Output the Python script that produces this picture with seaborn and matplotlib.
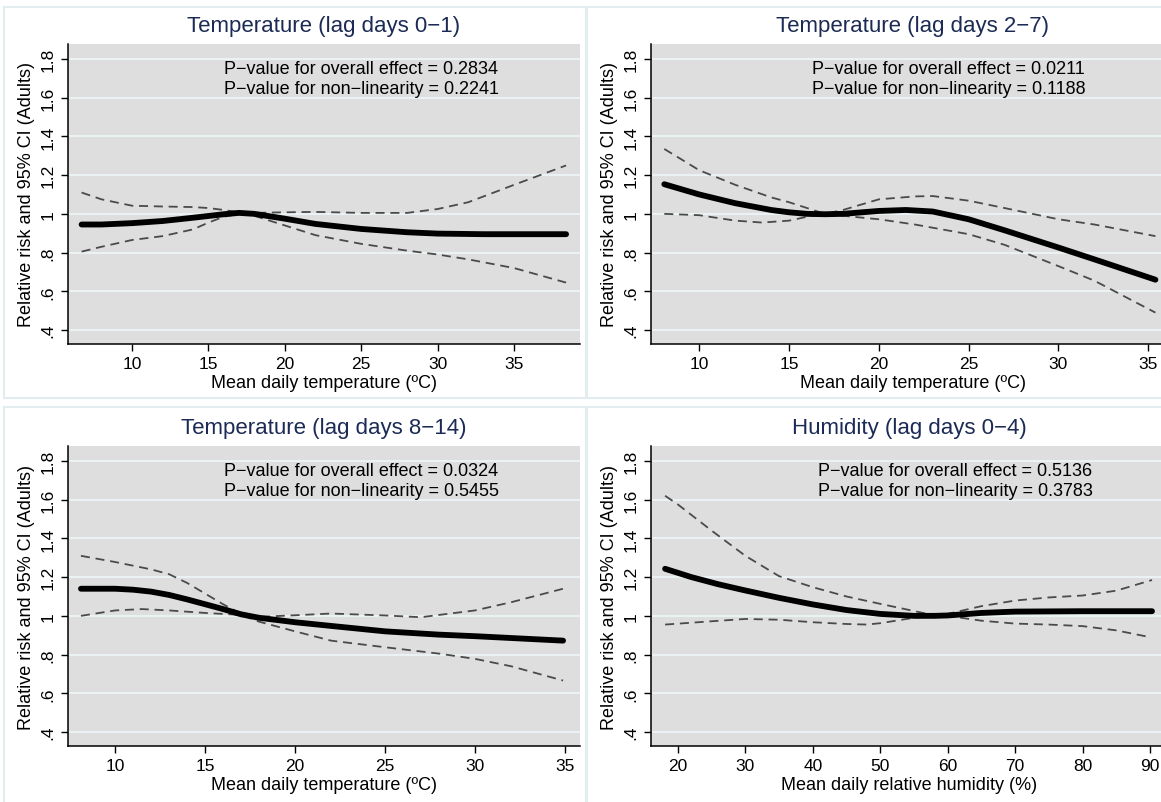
import numpy as np
import pandas as pd
import matplotlib
matplotlib.use("Agg")
import matplotlib.pyplot as plt
import matplotlib.patches as mpatches
import seaborn as sns

# Panel 1: temperature, lag days 0-1
t01_x = [6.7, 8, 10, 12, 14, 16, 17, 18, 20, 22, 25, 28, 30, 33, 36, 38.4]
t01_rr = [0.945, 0.945, 0.952, 0.963, 0.98, 0.998, 1.005, 1.0, 0.975, 0.948, 0.922, 0.905, 0.898, 0.895, 0.895, 0.895]
t01_ci_x = [6.7, 8, 10, 12, 14, 15, 16, 17, 18, 20, 22, 25, 28, 30, 32, 35, 38.4]
t01_hi = [1.11, 1.075, 1.042, 1.038, 1.035, 1.03, 1.02, 1.008, 1.005, 1.008, 1.01, 1.005, 1.005, 1.025, 1.06, 1.15, 1.25]
t01_lo = [0.805, 0.83, 0.865, 0.885, 0.92, 0.955, 0.985, 1.0, 0.99, 0.94, 0.89, 0.845, 0.81, 0.79, 0.765, 0.72, 0.645]

# Panel 2: temperature, lag days 2-7
t27_x = [8.05, 10, 12, 14, 15, 16, 17, 18, 20, 21.5, 23, 25, 27, 30, 32, 35.4]
t27_rr = [1.153, 1.10, 1.055, 1.02, 1.008, 1.0, 0.998, 1.0, 1.015, 1.02, 1.012, 0.972, 0.915, 0.826, 0.765, 0.66]
t27_hi_x = [8.05, 10, 12, 14, 15, 16, 17, 18, 20, 22, 23, 25, 27, 30, 32, 35.4]
t27_hi = [1.335, 1.225, 1.15, 1.085, 1.06, 1.03, 1.0, 1.02, 1.075, 1.09, 1.092, 1.068, 1.03, 0.972, 0.945, 0.885]
t27_lo_x = [8.05, 10, 12, 13.5, 15, 16, 17, 18, 20, 22, 25, 27, 30, 32, 35.4]
t27_lo = [1.0, 0.993, 0.965, 0.955, 0.965, 0.985, 1.0, 0.99, 0.972, 0.945, 0.895, 0.84, 0.73, 0.655, 0.49]

# Panel 3: temperature, lag days 8-14
t814_x = [8.1, 10, 11, 12, 13, 14, 15, 16, 17, 18, 20, 22, 25, 28, 30, 34.9]
t814_rr = [1.14, 1.14, 1.135, 1.125, 1.108, 1.085, 1.06, 1.035, 1.008, 0.99, 0.967, 0.948, 0.92, 0.903, 0.895, 0.872]
t814_hi_x = [8.1, 10, 12, 13, 14, 15, 16, 17, 18, 20, 22, 25, 27, 30, 32, 34.9]
t814_hi = [1.31, 1.278, 1.24, 1.215, 1.17, 1.115, 1.06, 1.01, 0.995, 1.003, 1.012, 1.002, 0.993, 1.028, 1.07, 1.14]
t814_lo_x = [8.1, 10, 11.5, 13, 15, 16, 17, 18, 20, 22, 25, 28, 30, 32, 34.9]
t814_lo = [1.0, 1.028, 1.035, 1.028, 1.015, 1.01, 1.005, 0.97, 0.92, 0.872, 0.838, 0.805, 0.778, 0.74, 0.666]

# Panel 4: humidity, lag days 0-4
h04_x = [18.1, 22, 26, 30, 35, 40, 45, 50, 55, 58, 60, 65, 70, 80, 90.3]
h04_rr = [1.243, 1.2, 1.163, 1.131, 1.093, 1.059, 1.03, 1.01, 1.0, 1.0, 1.002, 1.015, 1.022, 1.024, 1.024]
h04_hi_x = [18.1, 20, 25, 30, 35, 40, 45, 50, 55, 58, 60, 65, 70, 75, 80, 85, 90.3]
h04_hi = [1.62, 1.575, 1.44, 1.31, 1.205, 1.148, 1.1, 1.062, 1.025, 1.003, 1.01, 1.05, 1.079, 1.095, 1.105, 1.13, 1.185]
h04_lo_x = [18.1, 25, 30, 35, 40, 45, 48, 50, 55, 58, 60, 65, 70, 75, 80, 85, 90]
h04_lo = [0.955, 0.972, 0.984, 0.98, 0.967, 0.958, 0.955, 0.962, 0.99, 0.999, 1.0, 0.975, 0.96, 0.955, 0.947, 0.925, 0.89]

titles = ["Temperature (lag days 0\u22121)", "Temperature (lag days 2\u22127)",
          "Temperature (lag days 8\u221214)", "Humidity (lag days 0\u22124)"]
p_overall = ["0.2834", "0.0211", "0.0324", "0.5136"]
p_nonlin = ["0.2241", "0.1188", "0.5455", "0.3783"]
xlabels = ["Mean daily temperature (\u00baC)"] * 3 + ["Mean daily relative humidity (%)"]
yticks = [0.4, 0.6, 0.8, 1.0, 1.2, 1.4, 1.6, 1.8]
ytick_labels = [".4", ".6", ".8", "1", "1.2", "1.4", "1.6", "1.8"]
temp_ticks = [10, 15, 20, 25, 30, 35]
hum_ticks = [20, 30, 40, 50, 60, 70, 80, 90]

sns.set_theme(style="ticks")
plt.rcParams['font.family'] = ['Liberation Sans', 'DejaVu Sans']

W, H = 1161, 803
fig = plt.figure(figsize=(W / 100, H / 100), dpi=100)
fig.patch.set_facecolor("white")

# panel frames (pixels: x0, y0 from top, x1, y1)
frames = [(4, 8, 586, 399), (587, 8, 1175, 399), (4, 408, 586, 810), (587, 408, 1175, 810)]
for x0, y0, x1, y1 in frames:
    fig.patches.append(mpatches.Rectangle((x0 / W, 1 - y1 / H), (x1 - x0) / W, (y1 - y0) / H,
                                          transform=fig.transFigure, facecolor="none",
                                          edgecolor="#e3ecee", linewidth=1.5, zorder=-1))

# axes boxes in pixels (left, top, right, bottom)
boxes = [(68, 45, 580, 345), (651, 45, 1175, 345), (68, 447, 580, 747), (651, 447, 1168, 747)]
xlims = [(5.81, 39.31), (7.31, 36.49), (7.38, 35.84), (16.01, 92.67)]
xticks = [temp_ticks, temp_ticks, temp_ticks, hum_ticks]
ptext_x = [0.305, 0.308, 0.305, 0.323]

series = [
    (t01_x, t01_rr, t01_ci_x, t01_hi, t01_ci_x, t01_lo),
    (t27_x, t27_rr, t27_hi_x, t27_hi, t27_lo_x, t27_lo),
    (t814_x, t814_rr, t814_hi_x, t814_hi, t814_lo_x, t814_lo),
    (h04_x, h04_rr, h04_hi_x, h04_hi, h04_lo_x, h04_lo),
]

for i, (l, t, r, b) in enumerate(boxes):
    ax = fig.add_axes([l / W, 1 - b / H, (r - l) / W, (b - t) / H])
    ax.set_facecolor("#dedede")
    x, rr, hx, hi, lx, lo = series[i]

    # dashed 95% CI bounds
    sns.lineplot(x=hx, y=hi, ax=ax, color="#4a4a4a", linewidth=1.3, estimator=None, zorder=3)
    ax.lines[-1].set_dashes([5, 3.2])
    sns.lineplot(x=lx, y=lo, ax=ax, color="#4a4a4a", linewidth=1.3, estimator=None, zorder=3)
    ax.lines[-1].set_dashes([5, 3.2])
    # relative risk
    sns.lineplot(x=x, y=rr, ax=ax, color="black", linewidth=4.2, estimator=None, zorder=4)

    ax.set_xlim(*xlims[i])
    ax.set_ylim(0.328, 1.877)
    ax.set_yticks(yticks)
    ax.set_yticklabels(ytick_labels, rotation=90, va="center")
    ax.set_xticks(xticks[i])
    ax.grid(axis="y", color="#eaf2f3", linewidth=1.5)
    ax.grid(axis="x", visible=False)
    ax.set_axisbelow(True)
    for s in ["top", "right"]:
        ax.spines[s].set_visible(False)
    for s in ["left", "bottom"]:
        ax.spines[s].set_color("black")
        ax.spines[s].set_linewidth(1.1)
    ax.tick_params(axis="both", direction="out", length=5, width=1.0, color="black",
                   labelsize=12.5, labelcolor="black", pad=4)
    ax.set_xlabel(xlabels[i], fontsize=13, color="black", labelpad=2)
    ax.set_ylabel("Relative risk and 95% CI (Adults)", fontsize=13, color="black", labelpad=4)
    ax.text(0.5, 1.061, titles[i], transform=ax.transAxes, ha="center", va="center",
            fontsize=16, color="#1c2b55")
    ax.text(ptext_x[i], 0.917, "P\u2212value for overall effect = " + p_overall[i],
            transform=ax.transAxes, ha="left", va="center", fontsize=13, color="black")
    ax.text(ptext_x[i], 0.853, "P\u2212value for non\u2212linearity = " + p_nonlin[i],
            transform=ax.transAxes, ha="left", va="center", fontsize=13, color="black")

fig.savefig("out.png", dpi=100, facecolor="white")
